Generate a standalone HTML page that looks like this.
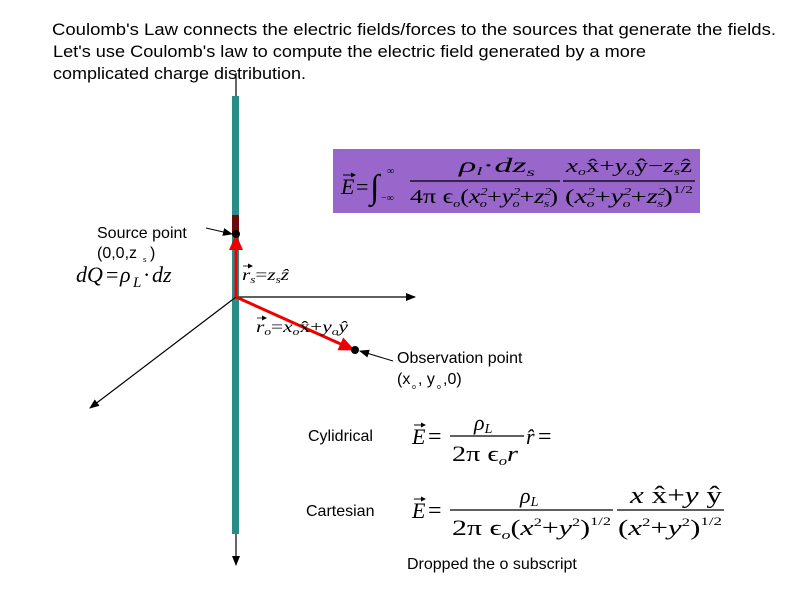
<!DOCTYPE html>
<html><head><meta charset="utf-8"><style>
html,body{margin:0;padding:0;background:#fff;}
svg{display:block}
.s{font-family:"Liberation Sans",sans-serif;fill:#000}
.m{font-family:"Liberation Serif",serif;font-style:italic;fill:#000}
.n{font-family:"Liberation Serif",serif;fill:#000}
</style></head><body>
<svg width="800" height="600" viewBox="0 0 800 600" xmlns="http://www.w3.org/2000/svg">
<defs>
<marker id="ab" markerWidth="10" markerHeight="10" refX="9" refY="5" orient="auto" markerUnits="userSpaceOnUse"><path d="M0,1 L10,5 L0,9 z" fill="#000"/></marker>
<marker id="ar" markerWidth="16" markerHeight="14" refX="15" refY="7" orient="auto" markerUnits="userSpaceOnUse"><path d="M0,0 L16,7 L0,14 z" fill="#e00"/></marker>
<marker id="av" markerWidth="5" markerHeight="5" refX="4" refY="2.5" orient="auto" markerUnits="userSpaceOnUse"><path d="M0,0 L5,2.5 L0,5 z" fill="#000"/></marker>
</defs>
<text class="s" font-size="17" x="52" y="35" textLength="724" lengthAdjust="spacingAndGlyphs">Coulomb's Law connects the electric  fields/forces to the sources that generate the fields.</text>
<text class="s" font-size="17" x="53" y="57" textLength="593" lengthAdjust="spacingAndGlyphs">Let's use Coulomb's law to compute the electric field generated by a more</text>
<text class="s" font-size="17" x="53" y="79" textLength="253" lengthAdjust="spacingAndGlyphs">complicated charge distribution.</text>

<line x1="236" y1="73" x2="236" y2="565" stroke="#000" stroke-width="1.2" marker-end="url(#ab)"/>
<rect x="232" y="96" width="7" height="438" fill="#2a8c86"/>
<rect x="232" y="215" width="7" height="20" fill="#6b0a0a"/>
<line x1="236" y1="297" x2="415" y2="297" stroke="#000" stroke-width="1.2" marker-end="url(#ab)"/>
<line x1="236" y1="297" x2="90" y2="408" stroke="#000" stroke-width="1.2" marker-end="url(#ab)"/>
<line x1="236" y1="297" x2="236" y2="235" stroke="#e00" stroke-width="3" marker-end="url(#ar)"/>
<line x1="236" y1="297" x2="354" y2="350" stroke="#e00" stroke-width="3" marker-end="url(#ar)"/>
<circle cx="236" cy="234" r="4" fill="#000"/>
<circle cx="355" cy="350" r="4" fill="#000"/>
<line x1="206" y1="228" x2="232" y2="234" stroke="#000" stroke-width="1" marker-end="url(#ab)"/>
<line x1="393" y1="361" x2="360" y2="351" stroke="#000" stroke-width="1" marker-end="url(#ab)"/>

<text class="s" font-size="16" x="97" y="238">Source point</text>
<text class="s" font-size="16" x="97" y="258">(0,0,z</text><text class="s" font-size="7" x="143" y="262">s</text><text class="s" font-size="16" x="150" y="258">)</text>
<text class="m" x="76" y="282" font-size="22">dQ</text><text class="n" x="106" y="282" font-size="22">=</text><text class="m" x="120" y="282" font-size="22">ρ</text><text class="m" x="133" y="287" font-size="15">L</text><text class="n" x="143" y="282" font-size="22">·</text><text class="m" x="152" y="282" font-size="22">dz</text>

<line x1="243" y1="266" x2="252" y2="266" stroke="#000" stroke-width="0.8" marker-end="url(#av)"/>
<text class="m" x="242" y="280" font-size="16" textLength="47" lengthAdjust="spacingAndGlyphs">r<tspan font-size="10" dy="3">s</tspan><tspan dy="-3" font-style="normal">=</tspan>z<tspan font-size="10" dy="3">s</tspan><tspan dy="-3">ẑ</tspan></text>
<line x1="257" y1="318" x2="266" y2="318" stroke="#000" stroke-width="0.8" marker-end="url(#av)"/>
<text class="m" x="256" y="332" font-size="16" textLength="92" lengthAdjust="spacingAndGlyphs">r<tspan font-size="10" dy="3">o</tspan><tspan dy="-3" font-style="normal">=</tspan>x<tspan font-size="10" dy="3">o</tspan><tspan dy="-3" font-style="normal">x̂+</tspan>y<tspan font-size="10" dy="3">o</tspan><tspan dy="-3">ŷ</tspan></text>

<text class="s" font-size="16" x="397" y="363">Observation point</text>
<text class="s" font-size="16" x="397" y="384">(x</text><text class="s" font-size="7" x="412" y="389">o</text><text class="s" font-size="16" x="418" y="384">, y</text><text class="s" font-size="7" x="437" y="389">o</text><text class="s" font-size="16" x="443" y="384">,0)</text>

<rect x="333" y="149" width="367" height="64" fill="#9966cc"/>
<line x1="343" y1="175" x2="355" y2="175" stroke="#000" stroke-width="1" marker-end="url(#av)"/>
<text class="m" x="341" y="194" font-size="22">E</text><text class="n" x="356" y="194" font-size="22">=</text>
<text class="n" x="370" y="198" font-size="34">∫</text>
<text class="n" x="387" y="174" font-size="10">∞</text><text class="n" x="381" y="201" font-size="10">−∞</text>
<text class="m" x="459" y="172" font-size="20" textLength="76" lengthAdjust="spacingAndGlyphs">ρ<tspan font-size="12" dy="3">l</tspan><tspan dy="-3" font-style="normal">·</tspan>dz<tspan font-size="12" dy="4">s</tspan></text>
<line x1="410" y1="181" x2="560" y2="181" stroke="#000" stroke-width="1.3"/>
<text class="m" x="410" y="203" font-size="20" textLength="148" lengthAdjust="spacingAndGlyphs"><tspan font-style="normal">4π ϵ</tspan><tspan font-size="11" dy="4">o</tspan><tspan dy="-4" font-style="normal">(</tspan>x<tspan font-size="11" dy="-8">2</tspan><tspan font-size="11" dx="-6" dy="12">o</tspan><tspan dy="-4" font-style="normal">+</tspan>y<tspan font-size="11" dy="-8">2</tspan><tspan font-size="11" dx="-6" dy="12">o</tspan><tspan dy="-4" font-style="normal">+</tspan>z<tspan font-size="11" dy="-8">2</tspan><tspan font-size="11" dx="-6" dy="12">s</tspan><tspan dy="-4" font-style="normal">)</tspan></text>
<text class="m" x="566" y="172" font-size="19" textLength="126" lengthAdjust="spacingAndGlyphs">x<tspan font-size="11" dy="3">o</tspan><tspan dy="-3" font-style="normal">x̂+</tspan>y<tspan font-size="11" dy="3">o</tspan><tspan dy="-3" font-style="normal">ŷ−</tspan>z<tspan font-size="11" dy="3">s</tspan><tspan dy="-3" font-style="normal">ẑ</tspan></text>
<line x1="563" y1="181" x2="695" y2="181" stroke="#000" stroke-width="1.3"/>
<text class="m" x="565" y="203" font-size="20" textLength="128" lengthAdjust="spacingAndGlyphs"><tspan font-style="normal">(</tspan>x<tspan font-size="11" dy="-8">2</tspan><tspan font-size="11" dx="-6" dy="12">o</tspan><tspan dy="-4" font-style="normal">+</tspan>y<tspan font-size="11" dy="-8">2</tspan><tspan font-size="11" dx="-6" dy="12">o</tspan><tspan dy="-4" font-style="normal">+</tspan>z<tspan font-size="11" dy="-8">2</tspan><tspan font-size="11" dx="-6" dy="12">s</tspan><tspan dy="-4" font-style="normal">)</tspan><tspan font-size="11" dy="-10" font-style="normal">1/2</tspan></text>

<text class="s" font-size="16" x="308" y="441">Cylidrical</text>
<line x1="414" y1="425" x2="425" y2="425" stroke="#000" stroke-width="1" marker-end="url(#av)"/>
<text class="m" x="412" y="444" font-size="22">E</text><text class="n" x="428" y="444" font-size="24">=</text>
<text class="m" x="474" y="430" font-size="22">ρ<tspan font-size="14" dy="3">L</tspan></text>
<line x1="450" y1="436" x2="524" y2="436" stroke="#000" stroke-width="1.3"/>
<text class="n" x="452" y="461" font-size="22" textLength="66" lengthAdjust="spacingAndGlyphs">2π ϵ<tspan font-size="13" dy="4" font-style="italic">o</tspan><tspan dy="-4" font-style="italic">r</tspan></text>
<text class="m" x="526" y="444" font-size="22">r̂</text><text class="n" x="538" y="444" font-size="24">=</text>

<text class="s" font-size="16" x="306" y="516">Cartesian</text>
<line x1="414" y1="499" x2="425" y2="499" stroke="#000" stroke-width="1" marker-end="url(#av)"/>
<text class="m" x="412" y="518" font-size="22">E</text><text class="n" x="428" y="518" font-size="24">=</text>
<text class="m" x="520" y="503" font-size="22">ρ<tspan font-size="14" dy="3">L</tspan></text>
<line x1="450" y1="510" x2="613" y2="510" stroke="#000" stroke-width="1.3"/>
<text class="n" x="452" y="535" font-size="22" textLength="159" lengthAdjust="spacingAndGlyphs">2π ϵ<tspan font-size="13" dy="4" font-style="italic">o</tspan><tspan dy="-4">(</tspan><tspan font-style="italic">x</tspan><tspan font-size="12" dy="-9">2</tspan><tspan dy="9">+</tspan><tspan font-style="italic">y</tspan><tspan font-size="12" dy="-9">2</tspan><tspan dy="9">)</tspan><tspan font-size="12" dy="-10">1/2</tspan></text>
<text class="m" x="630" y="503" font-size="24" textLength="92" lengthAdjust="spacingAndGlyphs">x <tspan font-style="normal">x̂+</tspan>y <tspan font-style="normal">ŷ</tspan></text>
<line x1="617" y1="510" x2="724" y2="510" stroke="#000" stroke-width="1.3"/>
<text class="n" x="618" y="535" font-size="22" textLength="104" lengthAdjust="spacingAndGlyphs">(<tspan font-style="italic">x</tspan><tspan font-size="12" dy="-9">2</tspan><tspan dy="9">+</tspan><tspan font-style="italic">y</tspan><tspan font-size="12" dy="-9">2</tspan><tspan dy="9">)</tspan><tspan font-size="12" dy="-10">1/2</tspan></text>

<text class="s" font-size="16" x="407" y="569">Dropped the o subscript</text>
</svg>
</body></html>
